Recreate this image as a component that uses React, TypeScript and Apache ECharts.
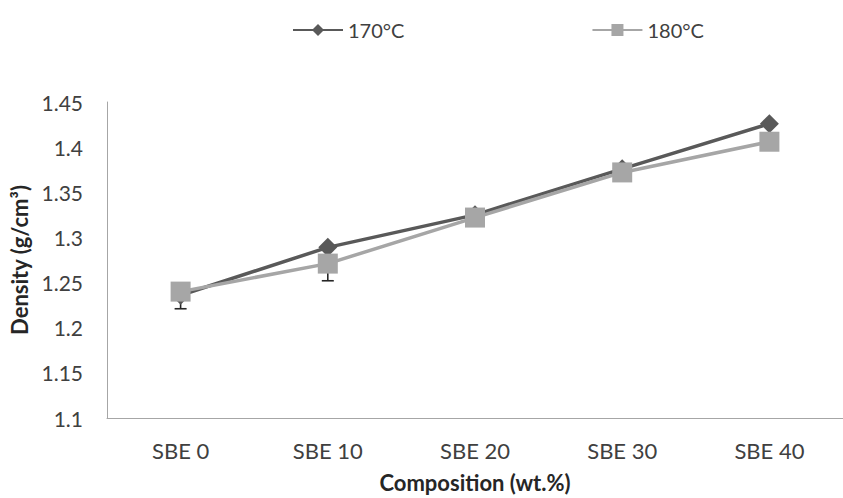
import React, { useEffect, useRef } from "react";
import * as echarts from "echarts";

const categories = ["SBE 0", "SBE 10", "SBE 20", "SBE 30", "SBE 40"];
const v170 = [1.236, 1.289, 1.325, 1.376, 1.426];
const v180 = [1.24, 1.271, 1.322, 1.372, 1.406];
const errMinus180 = [0.019, 0.019, 0, 0, 0];
const yTicks = { min: 1.1, max: 1.45, interval: 0.05 };

const FONT = "Lato, 'Open Sans', sans-serif";

function errorSeries(values: number[], errs: number[], z: number) {
  return {
    type: "custom",
    z,
    silent: true,
    tooltip: { show: false },
    data: values
      .map((v, i) => [i, v, v - errs[i], errs[i]])
      .filter((d) => d[3] > 0),
    renderItem: (params: any, api: any) => {
      const x = api.value(0);
      const top = api.coord([x, api.value(1)]);
      const lo = api.coord([x, api.value(2)]);
      const cap = 6;
      const style = { stroke: "#262626", lineWidth: 1.6 };
      return {
        type: "group",
        children: [
          { type: "line", shape: { x1: top[0], y1: top[1], x2: lo[0], y2: lo[1] }, style },
          { type: "line", shape: { x1: lo[0] - cap, y1: lo[1], x2: lo[0] + cap, y2: lo[1] }, style },
        ],
      };
    },
  };
}

export default function App() {
  const ref = useRef<HTMLDivElement>(null);
  useEffect(() => {
    if (!ref.current) return;
    const chart = echarts.init(ref.current, undefined, { renderer: "svg" });
    chart.setOption({
      animation: false,
      backgroundColor: "#ffffff",
      textStyle: { fontFamily: FONT },
      legend: {
        top: 15,
        left: 287,
        itemGap: 187,
        itemWidth: 50,
        itemHeight: 15,
        textStyle: { fontFamily: FONT, fontSize: 20, color: "#404040" },
        data: ["170°C", "180°C"],
      },
      grid: { left: 107, top: 102, width: 750, height: 316, containLabel: false },
      xAxis: {
        type: "category",
        data: categories,
        boundaryGap: true,
        axisLine: { lineStyle: { color: "#a6a6a6", width: 1 } },
        axisTick: { show: false },
        axisLabel: { fontFamily: FONT, fontSize: 22, color: "#404040", margin: 21 },
        name: "Composition (wt.%)",
        nameLocation: "middle",
        nameGap: 53,
        nameTextStyle: { fontFamily: FONT, fontSize: 22, fontWeight: "bold", color: "#262626" },
      },
      yAxis: {
        type: "value",
        min: yTicks.min,
        max: yTicks.max,
        interval: yTicks.interval,
        splitLine: { show: false },
        axisLine: { show: true, lineStyle: { color: "#a6a6a6", width: 1 } },
        axisTick: { show: false },
        axisLabel: {
          fontFamily: FONT,
          fontSize: 21,
          color: "#404040",
          margin: 24,
          formatter: (v: number) => String(+v.toFixed(2)),
        },
        name: "Density (g/cm³)",
        nameLocation: "middle",
        nameGap: 74,
        nameTextStyle: { fontFamily: FONT, fontSize: 22, fontWeight: "bold", color: "#262626" },
      },
      series: [
        errorSeries(v180, errMinus180, 1),
        {
          name: "170°C",
          type: "line",
          z: 3,
          data: v170,
          symbol: "diamond",
          symbolSize: 19,
          lineStyle: { color: "#595959", width: 3.5 },
          itemStyle: { color: "#595959" },
        },
        {
          name: "180°C",
          type: "line",
          z: 4,
          data: v180,
          symbol: "rect",
          symbolSize: 20,
          lineStyle: { color: "#a6a6a6", width: 3.5 },
          itemStyle: { color: "#a6a6a6" },
        },
      ],
    });
    return () => chart.dispose();
  }, []);
  return (
    <div
      ref={ref}
      style={{ position: "fixed", left: 0, top: 0, width: 843, height: 498 }}
    />
  );
}
